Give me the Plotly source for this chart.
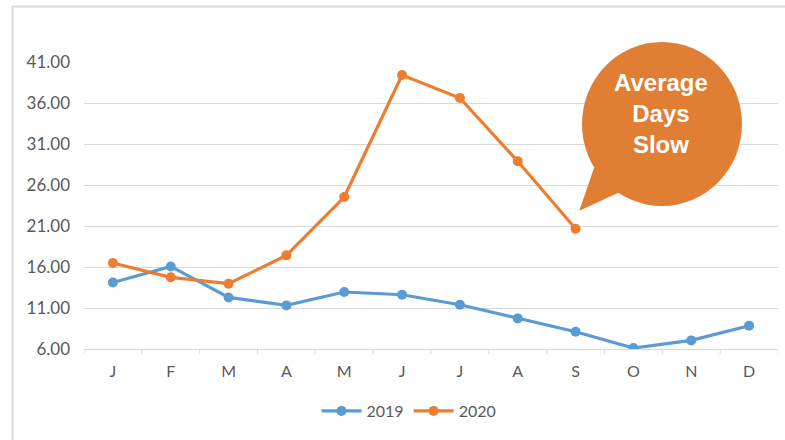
import plotly.graph_objects as go

months = ["J", "F", "M", "A", "M", "J", "J", "A", "S", "O", "N", "D"]
cats = list(range(12))
values_2019 = [14.12, 16.07, 12.29, 11.32, 12.95, 12.62, 11.4, 9.73, 8.11, 6.12, 7.05, 8.84]
values_2020 = [16.49, 14.74, 13.97, 17.42, 24.53, 39.41, 36.61, 28.89, 20.67]

W, H = 785, 440
L, R, T, B = 84, 7, 62, 91
pw, ph = W - L - R, H - T - B

def px(x):
    return (x - L) / pw

def py(y):
    return (H - B - y) / ph

fig = go.Figure()
fig.add_trace(go.Scatter(x=cats, y=values_2019, name="2019", mode="lines+markers",
                         line=dict(color="#5B9BD5", width=3.2),
                         marker=dict(size=10, color="#5B9BD5")))
fig.add_trace(go.Scatter(x=cats[:len(values_2020)], y=values_2020, name="2020", mode="lines+markers",
                         line=dict(color="#ED7D31", width=3.2),
                         marker=dict(size=10, color="#ED7D31")))

bubble = "#E07E34"
cx, cy = 662, 124
shapes = [
    dict(type="rect", xref="paper", yref="paper", x0=px(12.5), x1=px(800), y0=py(6.5), y1=py(460),
         line=dict(color="#D9D9D9", width=2), fillcolor="rgba(0,0,0,0)", layer="below"),
    dict(type="circle", xref="paper", yref="paper", x0=px(cx - 80), x1=px(cx + 80),
         y0=py(cy + 82), y1=py(cy - 82), fillcolor=bubble, line=dict(width=0), layer="above"),
    dict(type="path", xref="paper", yref="paper",
         path=f"M {px(594)} {py(168)} L {px(579.3)} {py(210.7)} L {px(620)} {py(192)} L {px(640)} {py(150)} Z",
         fillcolor=bubble, line=dict(width=0), layer="above"),
]

fig.update_layout(
    width=W, height=H,
    margin=dict(l=L, r=R, t=T, b=B),
    paper_bgcolor="white", plot_bgcolor="white",
    font=dict(family="Lato, Calibri, sans-serif", size=16, color="#595959"),
    shapes=shapes,
    showlegend=True,
    legend=dict(orientation="h", x=px(409), xanchor="center", y=py(411), yanchor="middle",
                font=dict(size=16, color="#595959"), itemwidth=40),
    annotations=[dict(xref="paper", yref="paper", x=px(661), y=py(114),
                      text="<b>Average</b><br><b>Days</b><br><b>Slow</b>", showarrow=False,
                      font=dict(family="Liberation Sans, Arial, sans-serif", size=24, color="white"),
                      align="center", xanchor="center", yanchor="middle")],
    xaxis=dict(type="linear", range=[-0.5, 11.5], tickmode="array", tickvals=cats, ticktext=months,
               showgrid=False, zeroline=False, showline=True, linecolor="#D9D9D9", linewidth=1,
               ticks="", tickfont=dict(size=16, color="#595959"), ticklabelstandoff=8),
    yaxis=dict(range=[6, 41], tick0=6, dtick=5, tickformat=".2f", showgrid=True,
               gridcolor="#D9D9D9", gridwidth=1, zeroline=False, showline=False,
               tickfont=dict(size=17, color="#595959"), ticklabelstandoff=13),
)

# boundary tick marks below x axis (category boundaries)
for b in [i - 0.5 for i in range(13)]:
    fig.add_shape(type="line", xref="x", yref="paper", x0=b, x1=b, y0=0, y1=py(H - B + 5),
                  line=dict(color="#D9D9D9", width=1))

fig.write_html("out.html", config={"displayModeBar": False},
               post_script="document.body.style.margin='0';document.body.style.overflow='hidden';")
